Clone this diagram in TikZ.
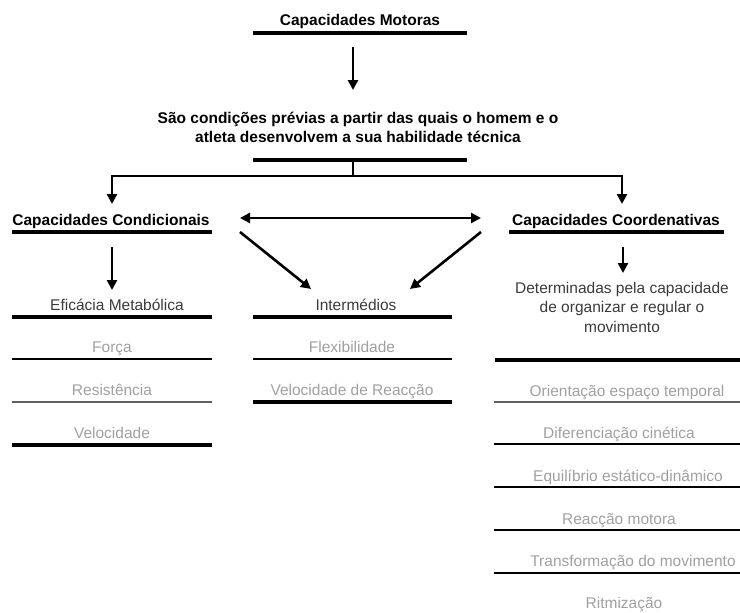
\documentclass[tikz,border=0pt]{standalone}
\usepackage{fontspec}
\setmainfont{Liberation Sans}
\usetikzlibrary{arrows.meta}
\definecolor{darktxt}{HTML}{3A3A3A}
\definecolor{lighttxt}{HTML}{A0A0A0}
\definecolor{midline}{HTML}{606060}
\begin{document}
\begin{tikzpicture}[x=1pt,y=-1pt,
  every node/.style={inner sep=0pt,outer sep=0pt,anchor=base},
  head/.style={font=\fontsize{15.5}{19}\selectfont\bfseries,text=black},
  lead/.style={font=\fontsize{15.5}{19.5}\selectfont,text=darktxt},
  item/.style={font=\fontsize{15.5}{19}\selectfont,text=lighttxt},
  thickline/.style={line width=4pt,black},
  thinline/.style={line width=1.2pt,black},
  grayline/.style={line width=1.8pt,midline},
  conn/.style={line width=2.6pt,black,line join=miter},
  arr/.style={conn,-{Triangle[length=10pt,width=10pt]}},
  darr/.style={conn,{Triangle[length=10pt,width=10pt]}-{Triangle[length=10pt,width=10pt]}}
]
\useasboundingbox (0,0) rectangle (740,613);

% top
\node[head] (motoras) at (360,26) {Capacidades Motoras};
\draw[thickline] (253,33) -- (467,33);
\coordinate (a1s) at (353,47);
\coordinate (a1e) at (353,90);
\draw[arr] (a1s) -- (a1e);

\node[head,align=center] (cond) at (358,142) {S\~ao condi\c c\~oes pr\'evias a partir das quais o homem e o\\atleta desenvolvem a sua habilidade t\'ecnica};
\draw[thickline] (253,160) -- (467,160);

\coordinate (stub) at (353,158);
\coordinate (hub) at (353,176);
\coordinate (tipL) at (112,204);
\coordinate (tipR) at (622,204);
\draw[conn] (stub) -- (hub);
\draw[arr] (hub) -| (tipL);
\draw[arr] (hub) -| (tipR);

% left column
\node[head] (condic) at (111,225) {Capacidades Condicionais};
\draw[thickline] (12,232) -- (212,232);
\coordinate (a2s) at (112,247);
\coordinate (a2e) at (112,290);
\draw[arr] (a2s) -- (a2e);

\node[lead] (efic) at (117,310) {Efic\'acia Metab\'olica};
\draw[thickline] (12,317) -- (212,317);
\node[item] (forca) at (112,352) {For\c ca};
\draw[thinline] (12,359) -- (212,359);
\node[item] (resist) at (112,395) {Resist\^encia};
\draw[grayline] (12,402) -- (212,402);
\node[item] (veloc) at (112,438) {Velocidade};
\draw[thickline] (12,445) -- (212,445);

% middle
\coordinate (dl) at (240,218);
\coordinate (dr) at (481,218);
\draw[darr] (dl) -- (dr);
\coordinate (d1s) at (240,232);
\coordinate (d1e) at (311,289);
\draw[arr] (d1s) -- (d1e);
\coordinate (d2s) at (481,232);
\coordinate (d2e) at (410,289);
\draw[arr] (d2s) -- (d2e);

\node[lead] (inter) at (356,310) {Interm\'edios};
\draw[thickline] (253,317) -- (452,317);
\node[item] (flex) at (352,352) {Flexibilidade};
\draw[thinline] (253,359) -- (452,359);
\node[item] (vreac) at (352,395) {Velocidade de Reac\c c\~ao};
\draw[thickline] (253,402) -- (452,402);

% right column
\node[head] (coord) at (616,225) {Capacidades Coordenativas};
\draw[thickline] (509,232) -- (724,232);
\coordinate (a3s) at (623,247);
\coordinate (a3e) at (623,273);
\draw[arr] (a3s) -- (a3e);

\node[lead,align=center] (determ) at (622,332) {Determinadas pela capacidade\\de organizar e regular o\\movimento};
\draw[thickline] (495,360) -- (740,360);

\node[item] (orient) at (627,396) {Orienta\c c\~ao espa\c co temporal};
\draw[grayline] (494,402) -- (740,402);
\node[item] (difer) at (619,438) {Diferencia\c c\~ao cin\'etica};
\draw[thinline] (494,444) -- (740,444);
\node[item] (equil) at (628,481) {Equil\'ibrio est\'atico-din\^amico};
\draw[thinline] (494,487) -- (740,487);
\node[item] (reacm) at (619,524) {Reac\c c\~ao motora};
\draw[thinline] (494,530) -- (740,530);
\node[item] (transf) at (633,566) {Transforma\c c\~ao do movimento};
\draw[thinline] (494,573) -- (740,573);
\node[item] (ritm) at (624,608) {Ritmiza\c c\~ao};
\end{tikzpicture}
\end{document}
